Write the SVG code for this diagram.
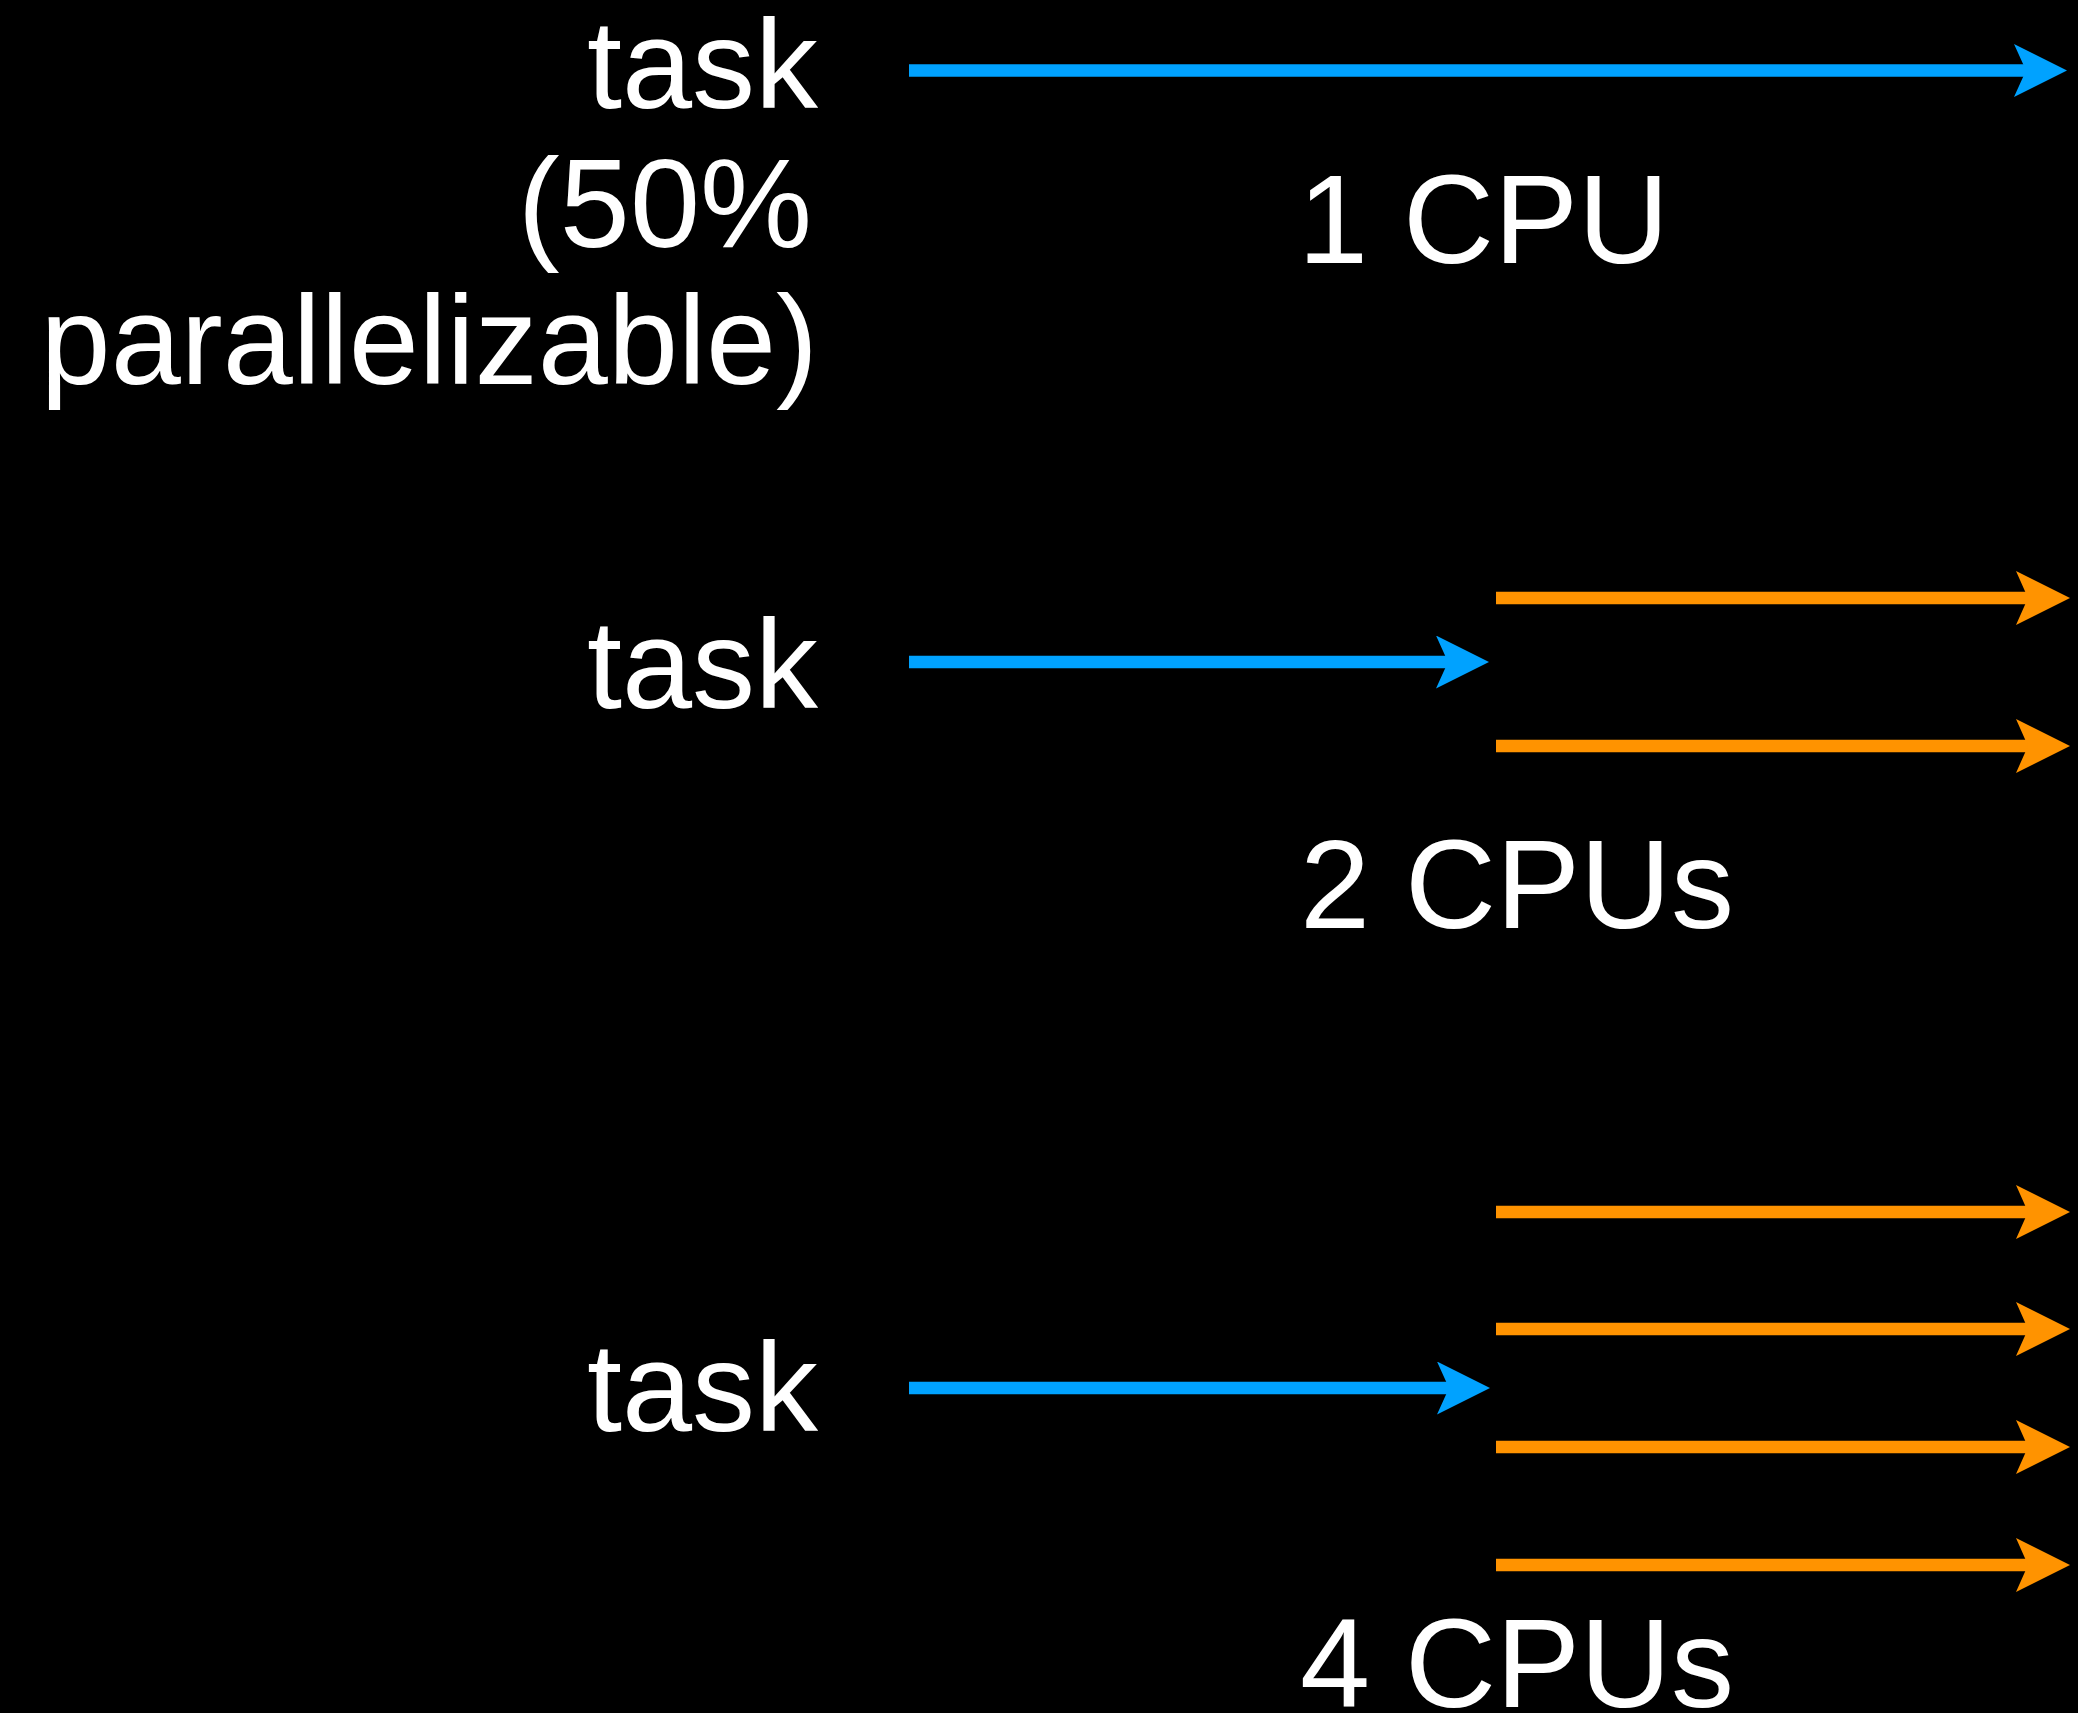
<svg xmlns="http://www.w3.org/2000/svg" width="2078" height="1713" viewBox="0 0 2078 1713">
  <style>
    .lbl { font-family: "Liberation Sans", Arial, Helvetica, sans-serif; font-size: 126px; fill: #ffffff; }
    .end { text-anchor: end; }
    .blue { stroke: #00A2FF; stroke-width: 12.5; fill: none; }
    .orange { stroke: #FF9300; stroke-width: 12.5; fill: none; }
  </style>
  <defs>
    <marker id="headBlue" viewBox="0 0 53 53" refX="12" refY="26.5" markerWidth="53" markerHeight="53" markerUnits="userSpaceOnUse" orient="auto">
      <path d="M53,26.5 L0,0 L12,26.5 L0,53 Z" fill="#00A2FF"/>
    </marker>
    <marker id="headOrange" viewBox="0 0 54 54" refX="12" refY="27" markerWidth="54" markerHeight="54" markerUnits="userSpaceOnUse" orient="auto">
      <path d="M54,27 L0,0 L12,27 L0,54 Z" fill="#FF9300"/>
    </marker>
  </defs>
  <rect x="0" y="0" width="2078" height="1713" fill="#000000"/>

  <g id="task-1cpu">
    <text class="lbl end" x="818" y="108">task</text>
    <text class="lbl end" x="812" y="247">(50%</text>
    <text class="lbl end" x="818" y="384">parallelizable)</text>
  </g>
  <g id="label-1cpu">
    <text class="lbl" x="1298" y="263">1 CPU</text>
  </g>
  <g id="task-2cpu">
    <text class="lbl end" x="818" y="708">task</text>
  </g>
  <g id="label-2cpu">
    <text class="lbl" x="1300" y="928">2 CPUs</text>
  </g>
  <g id="task-4cpu">
    <text class="lbl end" x="818" y="1431">task</text>
  </g>
  <g id="label-4cpu">
    <text class="lbl" x="1300" y="1707">4 CPUs</text>
  </g>

  <g id="connectors">
    <line class="blue" x1="909" y1="70.5" x2="2026" y2="70.5" marker-end="url(#headBlue)"/>
    <line class="blue" x1="909" y1="662" x2="1448" y2="662" marker-end="url(#headBlue)"/>
    <line class="blue" x1="909" y1="1388" x2="1449" y2="1388" marker-end="url(#headBlue)"/>
    <line class="orange" x1="1496" y1="598" x2="2028" y2="598" marker-end="url(#headOrange)"/>
    <line class="orange" x1="1496" y1="746" x2="2028" y2="746" marker-end="url(#headOrange)"/>
    <line class="orange" x1="1496" y1="1212" x2="2028" y2="1212" marker-end="url(#headOrange)"/>
    <line class="orange" x1="1496" y1="1329" x2="2028" y2="1329" marker-end="url(#headOrange)"/>
    <line class="orange" x1="1496" y1="1447" x2="2028" y2="1447" marker-end="url(#headOrange)"/>
    <line class="orange" x1="1496" y1="1565" x2="2028" y2="1565" marker-end="url(#headOrange)"/>
  </g>
</svg>
